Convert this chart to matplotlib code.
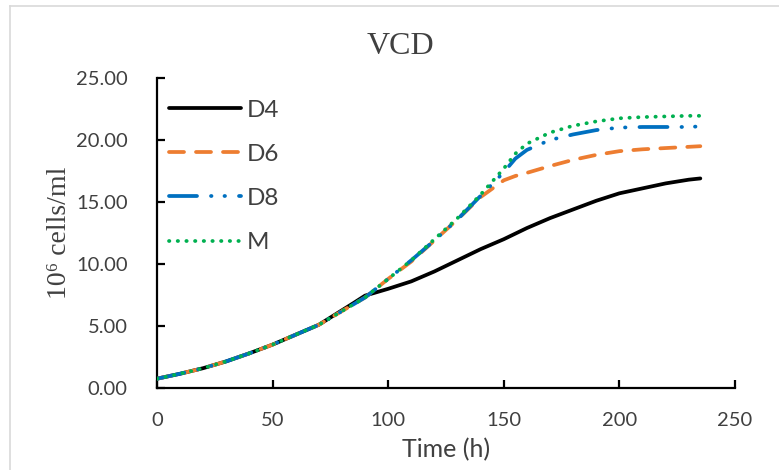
import matplotlib
matplotlib.use("Agg")
import matplotlib.pyplot as plt
from matplotlib.lines import Line2D

time_common = [0, 10, 20, 30, 40, 50, 60, 70, 80, 90]
vcd_common = [0.75, 1.15, 1.6, 2.15, 2.8, 3.5, 4.3, 5.1, 6.2, 7.3]

time_d4 = time_common[:-2] + [85, 90, 100, 110, 120, 130, 140, 150, 160, 170, 180, 190, 200, 210, 220, 230, 235]
vcd_d4 = vcd_common[:-2] + [6.85, 7.45, 8.0, 8.6, 9.4, 10.3, 11.2, 12.0, 12.9, 13.7, 14.4, 15.1, 15.7, 16.1, 16.5, 16.8, 16.9]

time_late = [100, 110, 120, 130, 140, 150, 155, 160, 170, 180, 190, 200, 210, 220, 230, 235]
vcd_d6 = [8.8, 10.2, 11.9, 13.6, 15.4, 16.75, 17.1, 17.35, 17.9, 18.4, 18.8, 19.1, 19.25, 19.35, 19.45, 19.5]
vcd_d8 = [8.8, 10.3, 11.9, 13.6, 15.5, 17.4, 18.5, 19.2, 20.0, 20.45, 20.8, 21.0, 21.05, 21.05, 21.05, 21.1]
vcd_m = [8.8, 10.3, 12.0, 13.7, 15.6, 17.7, 18.9, 19.7, 20.6, 21.15, 21.5, 21.75, 21.85, 21.9, 21.95, 21.95]

series_names = ["D4", "D6", "D8", "M"]
colors = ["#000000", "#ED7D31", "#0070C0", "#00B050"]
xticks = [0, 50, 100, 150, 200, 250]
yticks = [0, 5, 10, 15, 20, 25]

fig = plt.figure(figsize=(7.79, 4.70), dpi=100)
ax = fig.add_axes([157/779, 1-388/470, (735-157)/779, (388-78)/470])

px = 0.72
lw = 2.7
ax.plot(time_d4, vcd_d4, color=colors[0], lw=lw, solid_capstyle="round", label=series_names[0], zorder=2)
ax.plot(time_common + time_late, vcd_common + vcd_d6, color=colors[1], lw=lw,
        dashes=(15*px/lw, 12*px/lw), dash_capstyle="round", label=series_names[1], zorder=3)
ax.plot(time_common + time_late, vcd_common + vcd_d8, color=colors[2], lw=lw,
        dashes=(28*px/lw, 14*px/lw, 0.5*px/lw, 13*px/lw, 0.5*px/lw, 14*px/lw),
        dash_capstyle="round", label=series_names[2], zorder=4)
ax.plot(time_common + time_late, vcd_common + vcd_m, color=colors[3], lw=lw,
        dashes=(0.1, 8.3*px/lw), dash_capstyle="round", label=series_names[3], zorder=5)

ax.set_xlim(0, 250)
ax.set_ylim(0, 25)
ax.set_xticks(xticks)
ax.set_yticks(yticks)
ax.set_yticklabels([f"{v:.2f}" for v in yticks])
for s in ["top", "right"]:
    ax.spines[s].set_visible(False)
for s in ["left", "bottom"]:
    ax.spines[s].set_linewidth(1.6)
ax.tick_params(direction="in", length=6, width=1.6, labelsize=14.5, colors="#000000",
               labelcolor="#404040")
ax.tick_params(axis="x", pad=17.5)
ax.tick_params(axis="y", pad=21)
for lab in ax.get_xticklabels() + ax.get_yticklabels():
    lab.set_family("Lato")

ax.set_xlabel("Time (h)", fontsize=18, family="Lato", color="#404040", labelpad=6)
ax.set_ylabel("10⁶ cells/ml", fontsize=20, family=["Liberation Serif", "DejaVu Serif"],
              color="#404040", labelpad=3)
fig.text(400/779, 1-46/470, "VCD", fontsize=23, family="Liberation Serif", color="#404040",
         ha="center", va="center")

leg = ax.legend(loc="upper left", bbox_to_anchor=(0.02, 0.93), frameon=False,
                prop={"family": "Lato", "size": 17.5}, handlelength=3.0,
                labelspacing=0.95, handletextpad=0.2, borderpad=0, borderaxespad=0)
for t in leg.get_texts():
    t.set_color("#404040")

fig.add_artist(Line2D([10/779, 10/779], [0, 1-6/470], color="#D9D9D9", lw=1.2))
fig.add_artist(Line2D([10/779, 1], [1-6/470, 1-6/470], color="#D9D9D9", lw=1.2))

fig.savefig("out.png", dpi=100)
